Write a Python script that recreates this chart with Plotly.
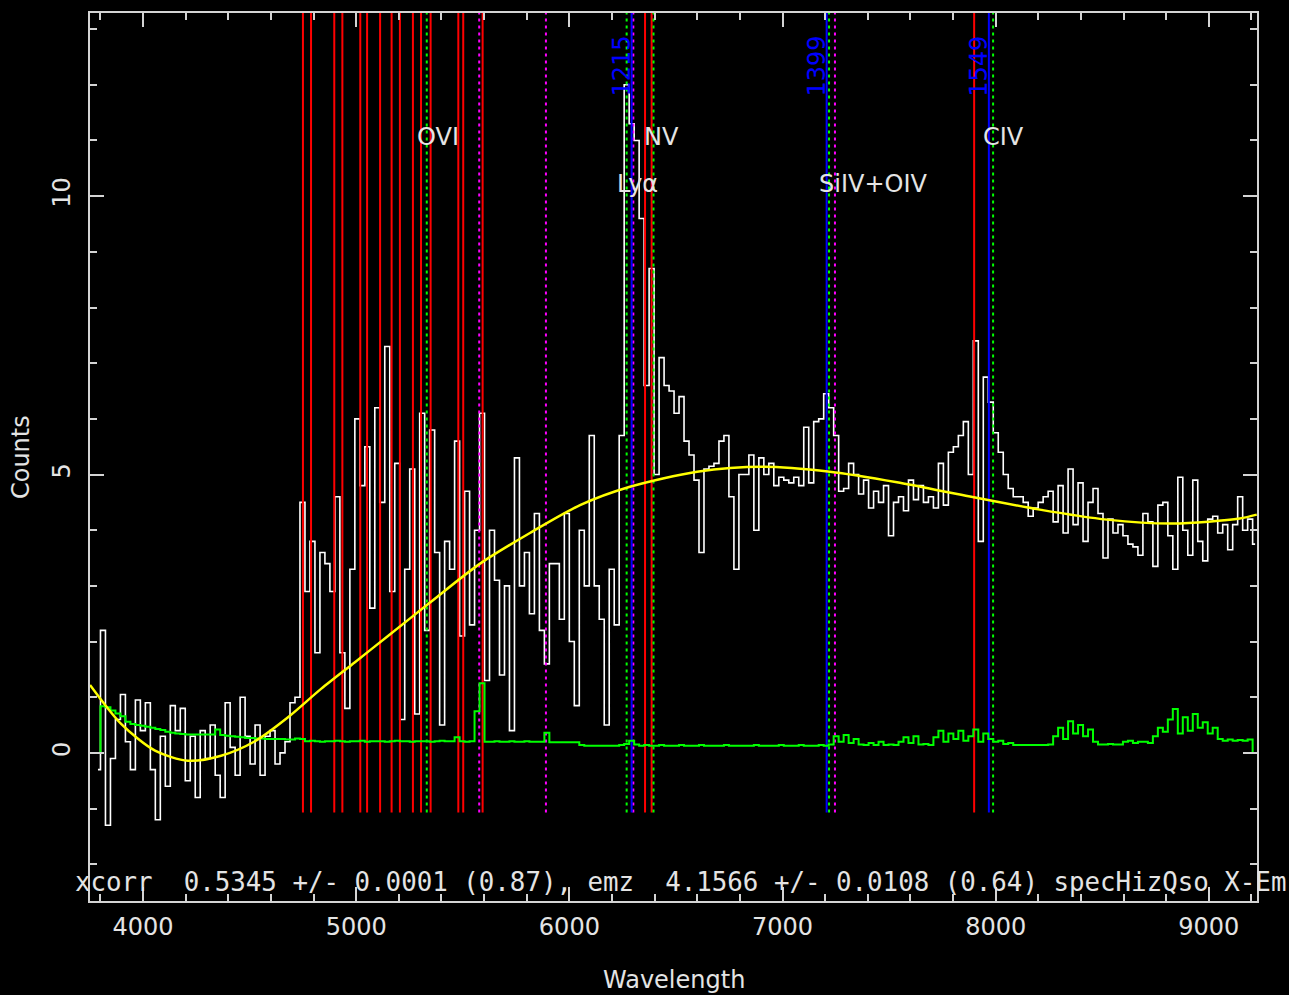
import plotly.graph_objects as go

# ---------------------------------------------------------------------------
# Binned spectrum (counts per bin), regular wavelength grid in Angstrom
# ---------------------------------------------------------------------------
WAVE_START = 3765.0
WAVE_STEP = 23.4

flux = [None,
    -0.3, 2.2, -1.3, -0.1, 0.6, 1.05, 0.2, -0.3, 0.95, 0.4,
    0.9, -0.3, -1.2, 0.3, -0.6, 0.85, 0.4, 0.8, -0.5, 0.3,
    -0.8, 0.4, -0.1, 0.5, -0.4, -0.8, 0.9, 0.1, -0.4, 1.0,
    0.3, -0.2, 0.5, -0.4, 0.3, 0.4, -0.2, 0.0, 0.2, 0.9,
    1.0, 4.5, 2.9, 3.8, 1.8, 3.6, 3.4, 2.9, 4.6, 1.8,
    0.8, 3.3, 6.0, 4.8, 5.5, 2.6, 6.2, 4.5, 7.3, 2.9,
    5.2, 0.6, 3.3, 5.1, 0.7, 6.1, 2.2, 5.8, 3.6, 0.5,
    3.8, 3.3, 5.6, 2.1, 4.7, 2.3, 4.0, 6.1, 1.3, 4.0,
    3.1, 1.4, 3.0, 0.4, 5.3, 3.0, 3.6, 2.5, 4.3, 2.2,
    1.6, 3.4, 3.4, 2.4, 4.3, 2.0, 0.85, 4.0, 3.0, 5.7,
    3.0, 2.4, 0.5, 3.3, 2.3, 5.7, 12.0, 11.3, 11.0, 9.6,
    6.6, 8.7, 5.0, 7.1, 6.6, 6.5, 6.1, 6.4, 5.6, 5.35,
    4.9, 3.6, 5.1, 5.15, 5.2, 5.6, 5.7, 4.6, 3.3, 5.0,
    5.0, 5.35, 4.0, 5.3, 5.0, 5.2, 4.8, 4.95, 4.9, 4.85,
    4.95, 4.8, 5.85, 4.85, 5.95, 6.0, 6.45, 6.2, 5.7, 4.7,
    4.75, 5.2, 5.0, 4.65, 4.9, 4.4, 4.7, 4.5, 4.8, 3.9,
    4.5, 4.6, 4.35, 4.9, 4.55, 4.8, 4.5, 4.6, 4.4, 5.2,
    4.45, 5.4, 5.5, 5.7, 5.95, 5.0, 7.4, 3.8, 6.75, 6.3,
    5.75, 5.4, 5.0, 4.75, 4.6, 4.6, 4.5, 4.25, 4.4, 4.5,
    4.6, 4.7, 4.15, 4.8, 3.95, 5.1, 4.1, 4.85, 3.8, 4.5,
    4.75, 4.3, 3.5, 4.2, 3.95, 4.1, 3.9, 3.75, 3.7, 3.55,
    4.3, 4.15, 3.35, 4.45, 4.5, 3.9, 3.3, 4.95, 4.0, 3.55,
    4.9, 3.8, 3.45, 4.2, 4.25, 3.95, 4.1, 3.65, 4.1, 4.6,
    4.0, 4.2, 3.75,
]

# 1-sigma error per bin, same grid
flux_err = [
    0.0, 0.0, 0.84, 0.82, 0.76, 0.71, 0.66, 0.56, 0.52, 0.5,
    0.49, 0.47, 0.45, 0.43, 0.41, 0.38, 0.36, 0.35, 0.34, 0.33,
    0.33, 0.33, 0.33, 0.33, 0.33, 0.42, 0.32, 0.31, 0.3, 0.29,
    0.28, 0.27, 0.27, 0.26, 0.26, 0.25, 0.25, 0.25, 0.25, 0.24,
    0.24, 0.26, 0.25, 0.21, 0.22, 0.21, 0.2, 0.21, 0.21, 0.22,
    0.21, 0.2, 0.21, 0.21, 0.22, 0.2, 0.21, 0.21, 0.21, 0.2,
    0.21, 0.22, 0.21, 0.21, 0.2, 0.21, 0.21, 0.21, 0.2, 0.21,
    0.22, 0.21, 0.21, 0.28, 0.21, 0.2, 0.21, 0.75, 1.25, 0.2,
    0.2, 0.21, 0.2, 0.2, 0.21, 0.2, 0.2, 0.21, 0.2, 0.2,
    0.2, 0.36, 0.19, 0.19, 0.19, 0.19, 0.19, 0.19, 0.14, 0.13,
    0.13, 0.13, 0.13, 0.13, 0.13, 0.13, 0.14, 0.16, 0.22, 0.15,
    0.13, 0.14, 0.13, 0.13, 0.14, 0.13, 0.13, 0.13, 0.14, 0.13,
    0.13, 0.13, 0.14, 0.13, 0.13, 0.13, 0.13, 0.14, 0.13, 0.13,
    0.13, 0.13, 0.13, 0.14, 0.13, 0.13, 0.13, 0.13, 0.14, 0.13,
    0.13, 0.13, 0.14, 0.13, 0.13, 0.13, 0.14, 0.13, 0.15, 0.3,
    0.2, 0.32, 0.18, 0.25, 0.15, 0.14, 0.18, 0.14, 0.2, 0.14,
    0.15, 0.14, 0.2, 0.28, 0.18, 0.3, 0.15, 0.16, 0.14, 0.28,
    0.4, 0.2, 0.35, 0.25, 0.4, 0.22, 0.3, 0.42, 0.2, 0.35,
    0.25, 0.2, 0.22, 0.16, 0.18, 0.14, 0.14, 0.14, 0.14, 0.14,
    0.14, 0.14, 0.15, 0.3, 0.45, 0.25, 0.57, 0.35, 0.5, 0.3,
    0.42, 0.2, 0.15, 0.15, 0.16, 0.15, 0.15, 0.2, 0.22, 0.18,
    0.2, 0.2, 0.18, 0.3, 0.45, 0.38, 0.6, 0.79, 0.35, 0.64,
    0.4, 0.7, 0.45, 0.55, 0.35, 0.45, 0.25, 0.22, 0.24, 0.22,
    0.23, 0.22, 0.24, 0.0,
]

# smooth continuum model
fit_wave = [3751, 3897, 4056, 4211, 4366, 4525, 4680, 4835, 4994, 5149,
            5346, 5581, 5815, 6050, 6284, 6599, 6908, 7222, 7537, 7832,
            8207, 8522, 8831, 9145, 9225]
fit_flux = [1.22, 0.52, 0.04, -0.14, -0.05, 0.21, 0.64, 1.15, 1.63, 2.1,
            2.7, 3.4, 3.95, 4.45, 4.78, 5.05, 5.14, 5.05, 4.86, 4.64,
            4.37, 4.19, 4.12, 4.21, 4.28]

# marker lines (observed wavelength, Angstrom)
red_lines = [4750, 4788, 4897, 4935, 5019, 5051, 5112, 5166, 5205, 5266,
             5304, 5349, 5479, 5502, 5593, 6355, 6386, 7899]
sky_lines = [5577, 5890, 6300, 7246]
fit_lines = [6292, 7207, 7968]
fit_line_labels = ["1215", "1399", "1549"]

EMZ = 4.1566
em_names = ["OVI", "Ly\u03b1", "NV", "SiIV+OIV", "CIV"]
em_rest = [1033.8, 1215.67, 1240.1, 1399.8, 1549.06]
em_row = [0, 1, 0, 1, 0]          # 0 = upper label row, 1 = lower row

status_text = ("xcorr\u00a0\u00a00.5345 +/- 0.0001 (0.87), emz\u00a0\u00a04.1566 "
               "+/- 0.0108 (0.64) specHizQso X-Em")

X_RANGE = [3751, 9226]
Y_RANGE = [-2.66, 13.29]
VLINE_BOTTOM = -1.07
LABEL_Y = [11.07, 10.22]

FONT = "DejaVu Sans"
TXT = "#e4e4e4"
AXC = "#d4d4d4"

wave = [WAVE_START + WAVE_STEP * k for k in range(len(flux))]
wave_err = [WAVE_START + WAVE_STEP * k for k in range(len(flux_err))]
em_obs = [r * (1 + EMZ) for r in em_rest]


def vlines(positions, color, dash="solid", width=2):
    xs, ys = [], []
    for w in positions:
        xs += [w, w, None]
        ys += [VLINE_BOTTOM, Y_RANGE[1], None]
    return go.Scatter(x=xs, y=ys, mode="lines", hoverinfo="skip",
                      line=dict(color=color, width=width, dash=dash))


fig = go.Figure()
fig.add_trace(go.Scatter(x=wave, y=flux, mode="lines", line_shape="hvh",
                         line=dict(color="#ffffff", width=1.6), name="flux"))
fig.add_trace(vlines(red_lines, "#ff0000"))
fig.add_trace(vlines(sky_lines, "#ff00ff", dash="3px,4px"))
fig.add_trace(vlines(fit_lines, "#0000ff"))
fig.add_trace(vlines(em_obs, "#00ff00", dash="3px,4px"))
fig.add_trace(go.Scatter(x=wave_err, y=flux_err, mode="lines", line_shape="hvh",
                         line=dict(color="#00ff00", width=2), name="error"))
fig.add_trace(go.Scatter(x=fit_wave, y=fit_flux, mode="lines", line_shape="spline",
                         line=dict(color="#ffff00", width=2.5, smoothing=0.8),
                         name="continuum"))

ann = []
for name, w, row in zip(em_names, em_obs, em_row):
    ann.append(dict(x=w, y=LABEL_Y[row], xref="x", yref="y", text=name,
                    showarrow=False, xanchor="left", yanchor="middle", xshift=-12,
                    font=dict(family=FONT, size=24, color=TXT)))
for w, lab in zip(fit_lines, fit_line_labels):
    ann.append(dict(x=w, y=12.34, xref="x", yref="y", text=lab, textangle=-90,
                    showarrow=False, xanchor="center", yanchor="middle", xshift=-10,
                    font=dict(family=FONT, size=24, color="#0000ff")))
ann.append(dict(x=0.5056, y=0.0217, xref="paper", yref="paper", text=status_text,
                showarrow=False, xanchor="center", yanchor="middle",
                font=dict(family="DejaVu Sans Mono", size=25.8, color=TXT)))
ann.append(dict(x=0.5, y=-0.0888, xref="paper", yref="paper", text="Wavelength",
                showarrow=False, xanchor="center", yanchor="middle",
                font=dict(family=FONT, size=24, color=TXT)))
ann.append(dict(x=-0.0591, y=0.5, xref="paper", yref="paper", text="Counts",
                textangle=-90, showarrow=False, xanchor="center", yanchor="middle",
                font=dict(family=FONT, size=24, color=TXT)))

axis_common = dict(showgrid=False, zeroline=False, showline=True, linecolor=AXC,
                   linewidth=2, mirror="allticks", ticks="inside", ticklen=14,
                   tickwidth=2, tickcolor=AXC,
                   tickfont=dict(family=FONT, size=24, color=TXT))

fig.update_layout(
    width=1289, height=995,
    paper_bgcolor="#000000", plot_bgcolor="#000000",
    margin=dict(l=90, r=32, t=11, b=94),
    showlegend=False,
    annotations=ann,
    xaxis=dict(range=X_RANGE, tickmode="linear", tick0=0, dtick=1000,
               ticklabelstandoff=3,
               minor=dict(dtick=200, tick0=0, ticks="inside", ticklen=7,
                          tickwidth=2, tickcolor=AXC, showgrid=False),
               **axis_common),
    yaxis=dict(range=Y_RANGE, tickmode="linear", tick0=0, dtick=5, tickangle=-90,
               ticklabelstandoff=8,
               minor=dict(dtick=1, tick0=0, ticks="inside", ticklen=7,
                          tickwidth=2, tickcolor=AXC, showgrid=False),
               **axis_common),
)

fig.write_html("out.html")
